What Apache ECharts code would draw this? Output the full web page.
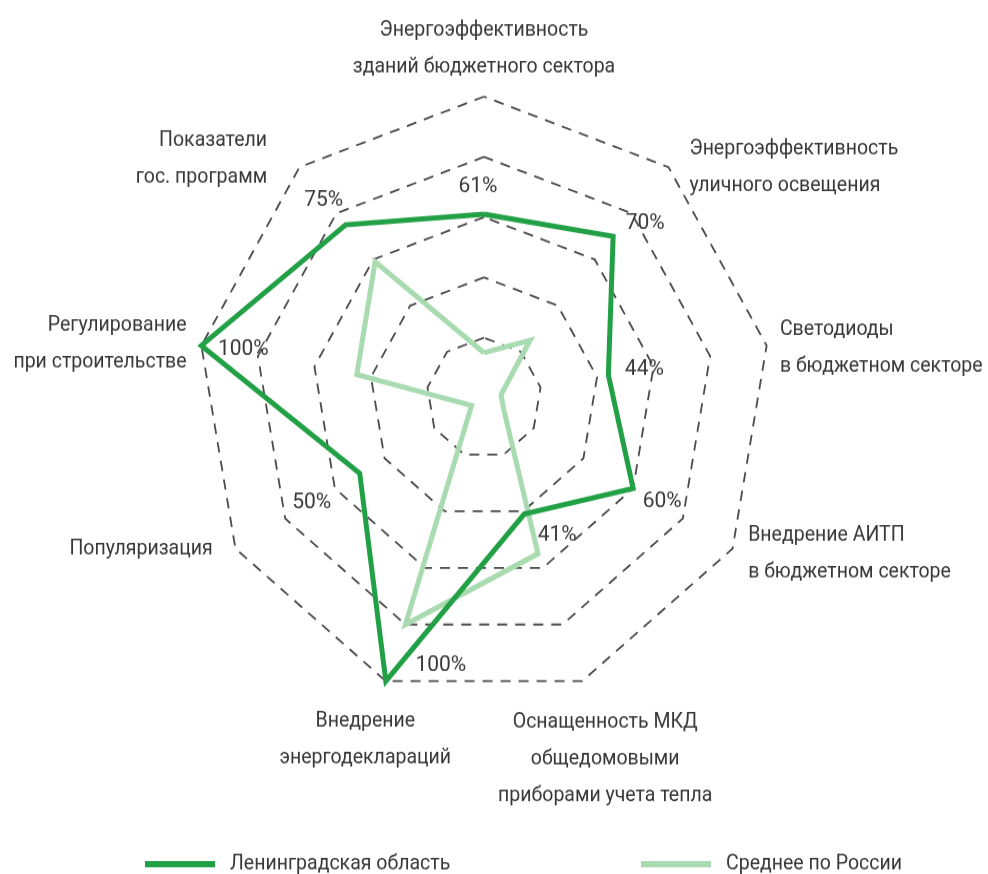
<!DOCTYPE html>
<html>
<head>
<meta charset="utf-8">
<script src="https://cdn.jsdelivr.net/npm/echarts@6/dist/echarts.min.js"></script>
<style>
html, body { margin: 0; padding: 0; width: 988px; height: 874px; background: #fff; overflow: hidden; }
/* the source picture is a little taller than wide */
#main { width: 988px; height: 832px; transform: scaleY(1.05); transform-origin: 0 0; }
</style>
</head>
<body>
<div id="main"></div>
<script>
// axes, counterclockwise from the top
const indicatorNames = [
	'Энергоэффективность\nзданий бюджетного сектора',
	'Показатели\nгос. программ',
	'Регулирование\nпри строительстве',
	'Популяризация',
	'Внедрение\nэнергодеклараций',
	'Оснащенность МКД\nобщедомовыми\nприборами учета тепла',
	'Внедрение АИТП\nв бюджетном секторе',
	'Светодиоды\nв бюджетном секторе',
	'Энергоэффективность\nуличного освещения'
]
const leningrad = [61, 75, 100, 50, 100, 41, 60, 44, 70]
const russia = [15, 59, 45, 5, 80, 55, 8, 6, 25]
const seriesNames = ['Ленинградская область', 'Среднее по России']

const FONT = 'Roboto, "DejaVu Sans Condensed", sans-serif'
const TEXT = '#383838'
const DARK = '#22a046'
const LIGHT = '#a9dbb1'

// nudges for axis names (gap from the outer ring, alignment, padding)
const nameStyle = [
	{},
	{ nameTextStyle: { padding: [0, 26, 0, 0] } },
	{ nameTextStyle: { padding: [0, 5, 0, 0] } },
	{ nameGap: 2, nameTextStyle: { padding: [0, 21, 0, 0] } },
	{ nameGap: 60, nameTextStyle: { align: 'center' } },
	{ nameGap: 79, nameTextStyle: { align: 'center', padding: [0, 8, 0, 0] } },
	{ nameTextStyle: { padding: [0, 0, 0, 7] } },
	{ nameGap: -17, nameTextStyle: { padding: [0, 0, 0, 30] } },
	{ nameGap: 0, nameTextStyle: { padding: [0, 0, 0, 21] } }
]
// where each percent label sits relative to its point
const labelOffset = [[-6, -26], [-22, -23], [42, 4], [-48, 28], [55, -15], [33, 20], [29, 13], [36, -5], [32, -12]]

const chart = echarts.init(document.getElementById('main'))

const labelSeries = labelOffset.map((off, i) => ({
	type: 'radar',
	name: 'lbl' + i,
	silent: true,
	symbol: 'circle',
	symbolSize: 1,
	itemStyle: { color: 'rgba(0,0,0,0)' },
	lineStyle: { width: 0, opacity: 0 },
	label: {
		show: true,
		position: 'inside',
		offset: off,
		color: TEXT,
		fontFamily: FONT,
		fontSize: 21,
		formatter: p => (p.dimensionIndex === i ? p.value + '%' : '')
	},
	data: [{ value: leningrad }]
}))

const legendBase = () => ({
	top: 808,
	icon: 'rect',
	itemWidth: 70,
	itemHeight: 6,
	selectedMode: false,
	textStyle: { color: TEXT, fontFamily: FONT, fontSize: 19.5, padding: [0, 0, 0, 10] }
})

const option = {
	animation: false,
	backgroundColor: '#fff',
	legend: [
		Object.assign(legendBase(), { left: 140, data: [seriesNames[0]] }),
		Object.assign(legendBase(), { left: 636, data: [seriesNames[1]] })
	],
	radar: {
		center: [484, 379],
		radius: 287,
		startAngle: 90,
		splitNumber: 5,
		shape: 'polygon',
		axisNameGap: 10,
		axisName: { color: TEXT, fontFamily: FONT, fontSize: 19.5, lineHeight: 35 },
		indicator: indicatorNames.map((n, i) => Object.assign({ name: n, min: 0, max: 100 }, nameStyle[i])),
		splitLine: { lineStyle: { color: '#4a4a4a', width: 1.8, type: [10, 8] } },
		splitArea: { show: false },
		axisLine: { show: false },
		axisTick: { show: false },
		axisLabel: { show: false }
	},
	series: [
		{
			type: 'radar',
			name: seriesNames[1],
			symbol: 'none',
			color: LIGHT,
			lineStyle: { color: LIGHT, width: 5, join: 'miter' },
			data: [{ value: russia, name: seriesNames[1] }]
		},
		{
			type: 'radar',
			name: seriesNames[0],
			symbol: 'none',
			color: DARK,
			lineStyle: { color: DARK, width: 5, join: 'miter' },
			data: [{ value: leningrad, name: seriesNames[0] }]
		}
	].concat(labelSeries)
}

chart.setOption(option)
</script>
</body>
</html>
